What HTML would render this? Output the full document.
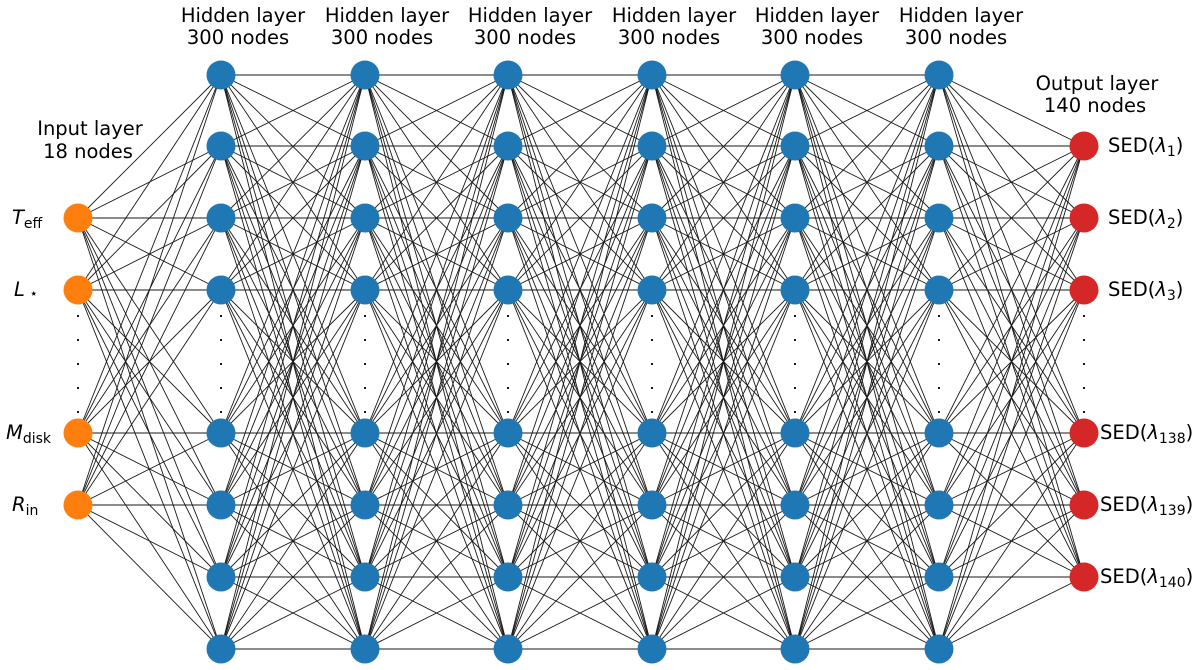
<!DOCTYPE html>
<html><head><meta charset="utf-8"><style>
html,body{margin:0;padding:0;background:#fff;}
svg{display:block;font-family:"DejaVu Sans","Liberation Sans",sans-serif;}
</style></head><body>
<svg id="s" width="1200" height="670" viewBox="0 0 1200 670" xmlns="http://www.w3.org/2000/svg">
<g id="lines" stroke="#000" stroke-width="0.9" opacity="0.9"></g>
<g id="dots" fill="#000"></g>
<g id="nodes"></g>
<g font-size="19.5" fill="#000" text-anchor="middle">
<text x="243" y="22">Hidden layer</text><text x="238" y="44">300 nodes</text>
<text x="387" y="22">Hidden layer</text><text x="382" y="44">300 nodes</text>
<text x="530" y="22">Hidden layer</text><text x="525" y="44">300 nodes</text>
<text x="674" y="22">Hidden layer</text><text x="669" y="44">300 nodes</text>
<text x="817" y="22">Hidden layer</text><text x="812" y="44">300 nodes</text>
<text x="961" y="22">Hidden layer</text><text x="956" y="44">300 nodes</text>
<text x="90" y="135">Input layer</text><text x="88" y="158">18 nodes</text>
<text x="1097" y="90">Output layer</text><text x="1095" y="112">140 nodes</text>
</g>
<g font-size="19.5" fill="#000">
<text x="12" y="224"><tspan font-style="italic">T</tspan><tspan font-size="14" dy="4">eff</tspan></text>
<text x="14" y="296"><tspan font-style="italic">L</tspan><tspan font-size="14" dy="2"> ⋆</tspan></text>
<text x="6" y="439"><tspan font-style="italic">M</tspan><tspan font-size="14" dy="4">disk</tspan></text>
<text x="12" y="511"><tspan font-style="italic">R</tspan><tspan font-size="14" dy="4">in</tspan></text>
<text x="1108" y="152">SED(<tspan font-style="italic">λ</tspan><tspan font-size="14" dy="4">1</tspan><tspan dy="-4">)</tspan></text>
<text x="1108" y="224">SED(<tspan font-style="italic">λ</tspan><tspan font-size="14" dy="4">2</tspan><tspan dy="-4">)</tspan></text>
<text x="1108" y="296">SED(<tspan font-style="italic">λ</tspan><tspan font-size="14" dy="4">3</tspan><tspan dy="-4">)</tspan></text>
<text x="1100" y="439">SED(<tspan font-style="italic">λ</tspan><tspan font-size="14" dy="4">138</tspan><tspan dy="-4">)</tspan></text>
<text x="1100" y="511">SED(<tspan font-style="italic">λ</tspan><tspan font-size="14" dy="4">139</tspan><tspan dy="-4">)</tspan></text>
<text x="1100" y="583">SED(<tspan font-style="italic">λ</tspan><tspan font-size="14" dy="4">140</tspan><tspan dy="-4">)</tspan></text>
</g>
</svg>
<script>
var NS="http://www.w3.org/2000/svg";
var layers=[
 {x:78,ys:[218,290,433,505],c:"#ff7f0e"}
];
var hx=[221,365,508,652,795,939];
hx.forEach(function(x){layers.push({x:x,ys:[75,146,218,290,433,505,577,649],c:"#1f77b4"});});
layers.push({x:1084,ys:[146,218,290,433,505,577],c:"#d62728"});
var L=document.getElementById("lines"),N=document.getElementById("nodes"),D=document.getElementById("dots");
for(var i=0;i<layers.length-1;i++){var a=layers[i],b=layers[i+1];
 a.ys.forEach(function(y1){b.ys.forEach(function(y2){var l=document.createElementNS(NS,"line");
 l.setAttribute("x1",a.x);l.setAttribute("y1",y1);l.setAttribute("x2",b.x);l.setAttribute("y2",y2);L.appendChild(l);});});}
layers.forEach(function(ly){
 ly.ys.forEach(function(y){var c=document.createElementNS(NS,"circle");c.setAttribute("cx",ly.x);c.setAttribute("cy",y);c.setAttribute("r",14.5);c.setAttribute("fill",ly.c);N.appendChild(c);});
 [316,340,364,388,412].forEach(function(y){var c=document.createElementNS(NS,"circle");c.setAttribute("cx",ly.x);c.setAttribute("cy",y);c.setAttribute("r",1.1);D.appendChild(c);});
});
</script>
</body></html>
